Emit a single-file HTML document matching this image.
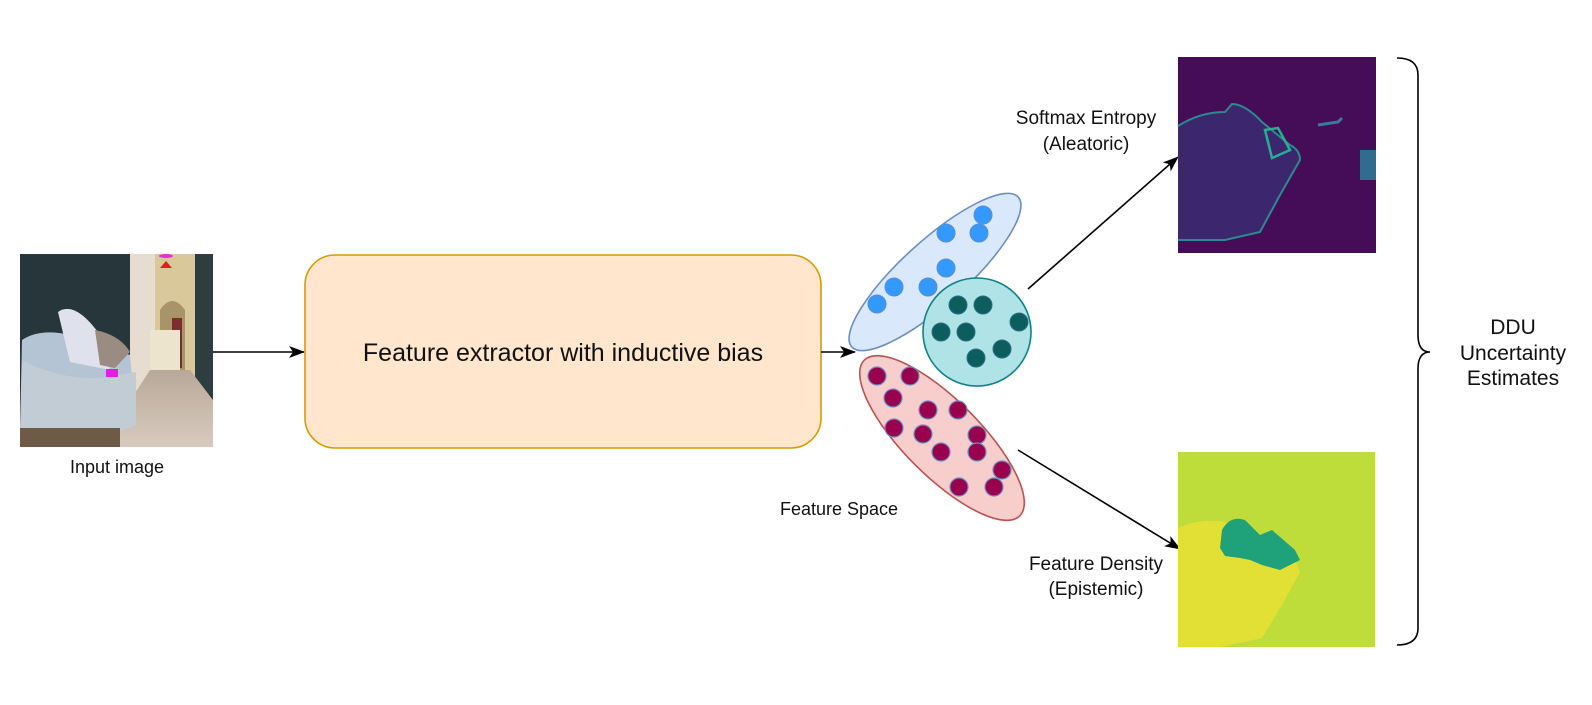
<!DOCTYPE html>
<html><head><meta charset="utf-8"><style>
html,body{margin:0;padding:0;background:#fff;}
body{width:1592px;height:700px;overflow:hidden;font-family:"Liberation Sans",Arial,sans-serif;}
</style></head><body>
<svg width="1592" height="700" viewBox="0 0 1592 700" xmlns="http://www.w3.org/2000/svg" font-family="Liberation Sans, Arial, sans-serif">
<defs>
<marker id="ah" markerWidth="16" markerHeight="12" refX="15" refY="6" orient="auto" markerUnits="userSpaceOnUse">
<path d="M0,0 L16,6 L0,12 L4,6 Z" fill="#000"/>
</marker>
<linearGradient id="floor" x1="0" y1="0" x2="0" y2="1"><stop offset="0" stop-color="#b8a89a"/><stop offset="1" stop-color="#d8cbbd"/></linearGradient>
</defs>

<!-- input image -->
<g>
<rect x="20" y="254" width="193" height="193" fill="#27363a"/>
<rect x="130" y="254" width="25" height="140" fill="#e6ddd0"/>
<rect x="155" y="254" width="40" height="150" fill="#d9c89a"/>
<path d="M160,310 Q172,292 185,310 L185,370 L160,370 Z" fill="#a89468"/>
<rect x="172" y="318" width="10" height="50" fill="#7a2e30"/>
<rect x="195" y="254" width="18" height="140" fill="#2e3e40"/>
<rect x="150" y="330" width="30" height="40" fill="#ece4cc"/>
<path d="M100,447 L150,370 L190,370 L213,400 L213,447 Z" fill="url(#floor)"/>
<path d="M22,340 Q40,328 70,335 L130,355 L136,420 L110,440 L20,430 Z" fill="#b4c4d4"/>
<path d="M58,312 Q75,300 100,335 L110,370 L70,362 Z" fill="#dfe2ec"/>
<path d="M95,330 Q120,335 130,352 L115,368 L100,365 Z" fill="#9a8c82"/>
<path d="M22,360 Q60,380 100,378 L136,372 L136,425 L100,440 L20,437 Z" fill="#c2ccd4"/>
<rect x="106" y="369" width="12" height="8" fill="#e020e0"/>
<rect x="20" y="428" width="100" height="19" fill="#6e5a46"/>
<ellipse cx="166" cy="256" rx="7" ry="2" fill="#e030e0"/>
<path d="M160,268 L172,268 L166,261 Z" fill="#e02020"/>
</g>
<text x="117" y="473" font-size="18" text-anchor="middle" fill="#111">Input image</text>

<line x1="213" y1="352" x2="304" y2="352" stroke="#000" stroke-width="1.6" marker-end="url(#ah)"/>
<rect x="305" y="255" width="516" height="193" rx="30" ry="30" fill="#ffe6cc" stroke="#d79b00" stroke-width="1.6"/>
<text x="563" y="361" font-size="25" text-anchor="middle" fill="#111">Feature extractor with inductive bias</text>
<line x1="821" y1="352" x2="855" y2="352" stroke="#000" stroke-width="1.6" marker-end="url(#ah)"/>

<!-- feature space -->
<ellipse cx="935" cy="272" rx="112" ry="32" transform="rotate(-42 935 272)" fill="#dae8fc" stroke="#6c8ebf" stroke-width="1.6"/>
<ellipse cx="942" cy="438" rx="110" ry="38" transform="rotate(45 942 438)" fill="#f8cecc" stroke="#b85450" stroke-width="1.6"/>
<circle cx="977" cy="332" r="54" fill="#b0e3e6" stroke="#0e8088" stroke-width="1.6"/>
<g fill="#3399ff" stroke="#5a8fd0" stroke-width="1">
<circle cx="983" cy="215" r="9"/><circle cx="946" cy="233" r="9"/><circle cx="979" cy="233" r="9"/><circle cx="946" cy="268" r="9"/><circle cx="894" cy="287" r="9"/><circle cx="928" cy="287" r="9"/><circle cx="877" cy="304" r="9"/>
</g>
<g fill="#0b5e5c" stroke="#2e6e8a" stroke-width="1">
<circle cx="958" cy="305" r="9"/><circle cx="983" cy="305" r="9"/><circle cx="941" cy="332" r="9"/><circle cx="966" cy="332" r="9"/><circle cx="1019" cy="322" r="9"/><circle cx="1002" cy="349" r="9"/><circle cx="976" cy="358" r="9"/>
</g>
<g fill="#99004d" stroke="#6c8ebf" stroke-width="1.2">
<circle cx="877" cy="376" r="9"/><circle cx="910" cy="376" r="9"/><circle cx="893" cy="398" r="9"/><circle cx="928" cy="410" r="9"/><circle cx="958" cy="410" r="9"/><circle cx="894" cy="428" r="9"/><circle cx="923" cy="434" r="9"/><circle cx="977" cy="435" r="9"/><circle cx="941" cy="452" r="9"/><circle cx="977" cy="452" r="9"/><circle cx="1002" cy="470" r="9"/><circle cx="959" cy="487" r="9"/><circle cx="994" cy="487" r="9"/>
</g>
<text x="839" y="515" font-size="18" text-anchor="middle" fill="#111">Feature Space</text>

<line x1="1028" y1="289" x2="1178" y2="157" stroke="#000" stroke-width="1.6" marker-end="url(#ah)"/>
<line x1="1018" y1="450" x2="1180" y2="549" stroke="#000" stroke-width="1.6" marker-end="url(#ah)"/>

<text x="1086" y="124" font-size="19" text-anchor="middle" fill="#111">Softmax Entropy</text>
<text x="1086" y="150" font-size="19" text-anchor="middle" fill="#111">(Aleatoric)</text>
<text x="1096" y="570" font-size="19" text-anchor="middle" fill="#111">Feature Density</text>
<text x="1096" y="595" font-size="19" text-anchor="middle" fill="#111">(Epistemic)</text>

<!-- entropy map -->
<g>
<rect x="1178" y="57" width="198" height="196" fill="#450c58"/>
<path d="M1178,126 Q1200,112 1225,112 L1232,104 Q1245,104 1262,122 L1290,145 Q1300,150 1300,160 L1280,195 L1260,232 L1225,240 L1178,240 Z" fill="#3a2e74" opacity="0.8"/>
<path d="M1178,126 Q1200,112 1225,112 L1232,104 Q1245,104 1262,122 L1290,145 Q1300,150 1300,160 L1280,195 L1260,232 L1225,240 L1178,240" fill="none" stroke="#2b8a8e" stroke-width="2"/>
<path d="M1265,130 L1278,128 L1290,150 L1272,158 Z" fill="none" stroke="#25b090" stroke-width="2.5"/>
<path d="M1318,125 L1338,122 L1342,118" stroke="#3a7a9a" stroke-width="3" fill="none"/>
<rect x="1360" y="150" width="16" height="30" fill="#2f6c8e"/>
</g>

<!-- density map -->
<g>
<rect x="1178" y="452" width="197" height="195" fill="#bedd3a"/>
<path d="M1178,528 Q1200,518 1225,522 L1290,548 L1300,572 L1282,605 L1262,638 L1220,647 L1178,647 Z" fill="#e2e034"/>
<path d="M1222,530 Q1230,515 1245,520 L1260,535 L1272,530 L1295,550 L1300,560 L1280,570 L1262,565 L1250,560 L1240,558 L1225,556 L1220,548 Z" fill="#1fa27a"/>
</g>

<path d="M1397,58 Q1418,58 1418,75 L1418,335 Q1418,352 1430,352 Q1418,352 1418,369 L1418,628 Q1418,645 1397,645" fill="none" stroke="#000" stroke-width="1.6"/>
<text x="1513" y="334" font-size="21" text-anchor="middle" fill="#111">DDU</text>
<text x="1513" y="360" font-size="21" text-anchor="middle" fill="#111">Uncertainty</text>
<text x="1513" y="385" font-size="21" text-anchor="middle" fill="#111">Estimates</text>
</svg>
</body></html>
